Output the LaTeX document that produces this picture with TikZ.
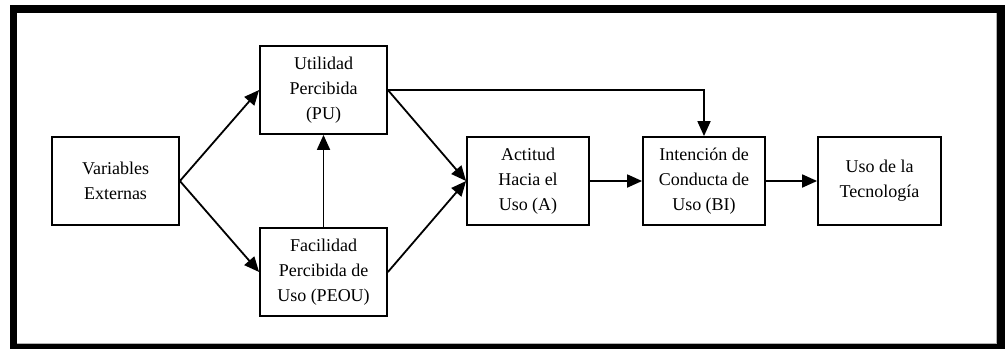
\documentclass[tikz,border=0pt]{standalone}
\usepackage{fontspec}
\setmainfont{Liberation Serif}
\usetikzlibrary{arrows.meta}
\begin{document}
\begin{tikzpicture}[x=1pt,y=-1pt,
  box/.style={draw=black, line width=1.8pt, rectangle, inner sep=0pt,
    minimum width=127pt, minimum height=88pt, align=center,
    font=\fontsize{18}{25}\selectfont},
  link/.style={line width=1.8pt, -{Triangle[length=15pt,width=13pt]}},
  plain/.style={line width=1.8pt}]
\useasboundingbox (0,0) rectangle (1005,349);
% heavy frame around the model
\fill[black] (10,5) rectangle (1005,349);
\fill[white] (17,13) rectangle (997,344);
\draw[gray!60, line width=0.8pt] (996.6,13) -- (996.6,343.6) -- (17,343.6);

% constructs of the technology acceptance model
\node[box] (VE) at (115.5,181) {Variables\\Externas};
\node[box] (PU) at (323.5,90) {Utilidad\\Percibida\\(PU)};
\node[box] (PEOU) at (323.5,272) {Facilidad\\Percibida de\\Uso (PEOU)};
\node[box, minimum width=122pt] (A) at (528,181) {Actitud\\Hacia el\\Uso (A)};
\node[box, minimum width=122pt] (BI) at (704,181) {Intención de\\Conducta de\\Uso (BI)};
\node[box, minimum width=123pt] (U) at (879.5,181) {Uso de la\\Tecnología};

% relations
\draw[link] (VE.east) -- (PU.west);
\draw[link] (VE.east) -- (PEOU.west);
\draw[link] (PEOU.north) -- (PU.south);
\draw[link] (PU.east) -- (A.west);
\draw[link] (PEOU.east) -- (A.west);
\draw[link] (PU.east) -| (BI.north);
\draw[link] (A.east) -- (BI.west);
\draw[link] (BI.east) -- (U.west);
\end{tikzpicture}
\end{document}
